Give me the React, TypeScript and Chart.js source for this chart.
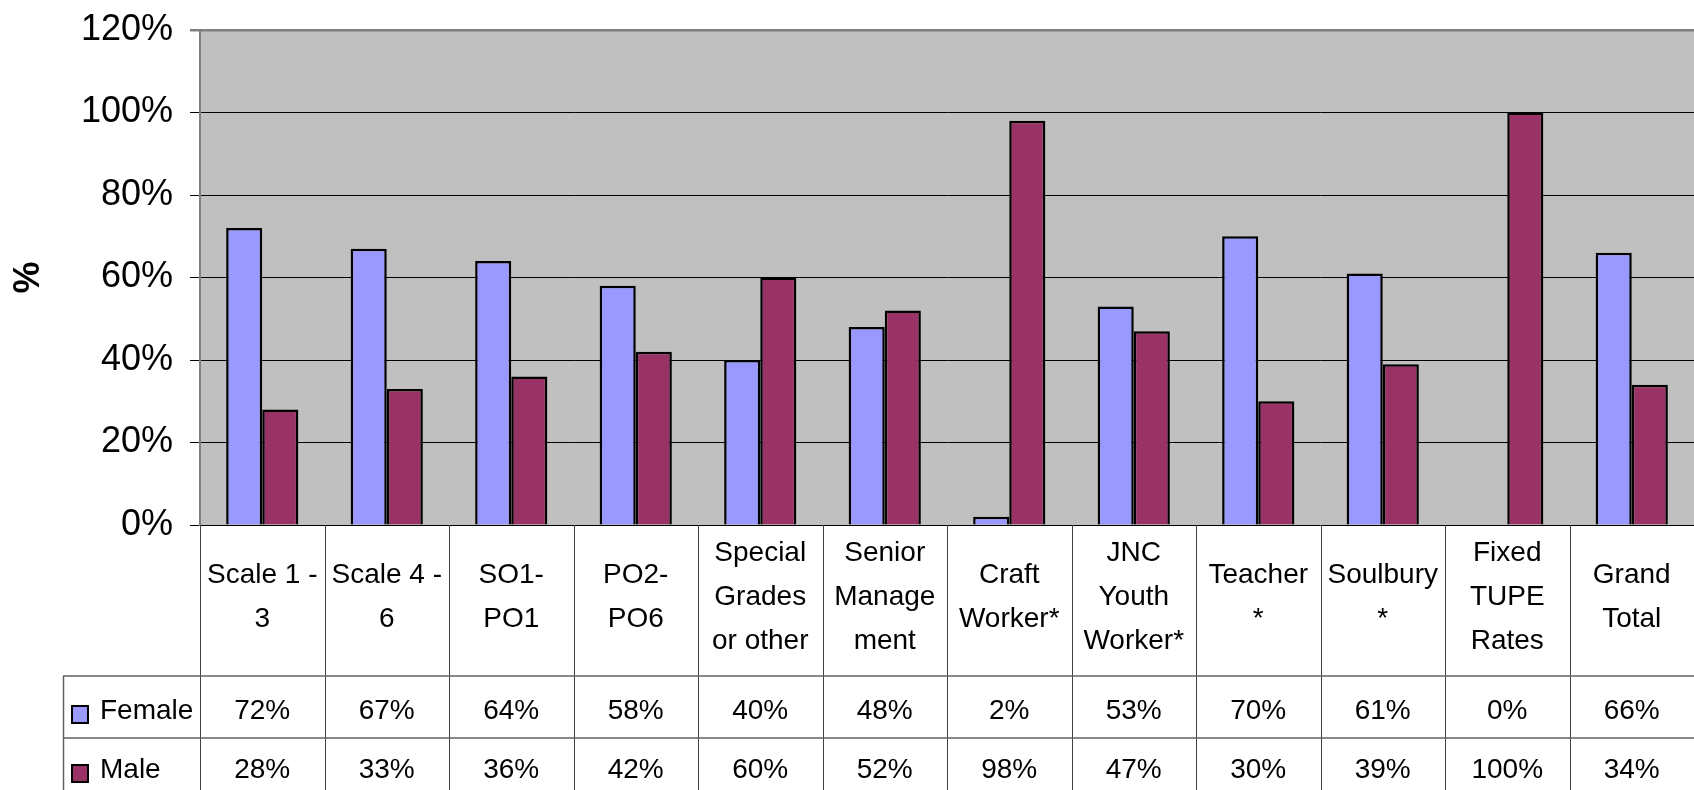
import React, { useEffect, useRef } from 'react';
import { Chart, registerables } from 'chart.js';

Chart.register(...registerables);

// ---- Data ----
const categoryLines: string[][] = [
  ['Scale 1 -', '3'],
  ['Scale 4 -', '6'],
  ['SO1-', 'PO1'],
  ['PO2-', 'PO6'],
  ['Special', 'Grades', 'or other'],
  ['Senior', 'Manage', 'ment'],
  ['Craft', 'Worker*'],
  ['JNC', 'Youth', 'Worker*'],
  ['Teacher', '*'],
  ['Soulbury', '*'],
  ['Fixed', 'TUPE', 'Rates'],
  ['Grand', 'Total'],
];
const seriesNames = ['Female', 'Male'];
const femaleValues = [72, 67, 64, 58, 40, 48, 2, 53, 70, 61, 0, 66];
const maleValues = [28, 33, 36, 42, 60, 52, 98, 47, 30, 39, 100, 34];
const yTickValues = [0, 20, 40, 60, 80, 100, 120];
const yAxisTitle = '%';

const FEMALE_COLOR = '#9999FF';
const MALE_COLOR = '#993366';
const FONT = "'Liberation Sans', Arial, Helvetica, sans-serif";

const tablePlugin = {
  id: 'excelDataTable',
  beforeDraw(chart: any) {
    const { ctx, chartArea } = chart;
    ctx.save();
    ctx.fillStyle = '#C0C0C0';
    ctx.fillRect(chartArea.left, chartArea.top, chartArea.right - chartArea.left, chartArea.bottom - chartArea.top);
    ctx.restore();
  },
  afterDraw(chart: any) {
    const { ctx, chartArea } = chart;
    const xs = chart.scales.x;
    const n = categoryLines.length;
    const step = xs.getPixelForValue(1) - xs.getPixelForValue(0);
    const firstEdge = xs.getPixelForValue(0) - step / 2;
    const H = chart.height;
    const headerBottom = chartArea.bottom + 151;
    const row1Bottom = headerBottom + 62;
    const legendLeft = 63;

    ctx.save();
    // vertical lines between categories
    ctx.strokeStyle = '#404040';
    ctx.lineWidth = 1;
    for (let i = 0; i <= n; i++) {
      const bx = Math.round(firstEdge + i * step) + 0.5;
      ctx.beginPath();
      ctx.moveTo(bx, chartArea.bottom);
      ctx.lineTo(bx, H);
      ctx.stroke();
    }
    // horizontal lines
    ctx.strokeStyle = '#606060';
    ctx.lineWidth = 1.5;
    [headerBottom, row1Bottom].forEach((y) => {
      ctx.beginPath();
      ctx.moveTo(legendLeft, y);
      ctx.lineTo(chartArea.right, y);
      ctx.stroke();
    });
    ctx.beginPath();
    ctx.moveTo(legendLeft + 0.5, headerBottom);
    ctx.lineTo(legendLeft + 0.5, H);
    ctx.stroke();

    // category labels
    ctx.fillStyle = '#000';
    ctx.font = `28px ${FONT}`;
    ctx.textAlign = 'center';
    ctx.textBaseline = 'middle';
    const lh = 44;
    const headerCenter = chartArea.bottom + 72;
    categoryLines.forEach((lines, i) => {
      const cx = xs.getPixelForValue(i);
      const y0 = headerCenter - ((lines.length - 1) * lh) / 2;
      lines.forEach((t, j) => ctx.fillText(t, cx, y0 + j * lh));
    });

    // value rows
    const rows = [femaleValues, maleValues];
    const rowCenters = [headerBottom + 35, row1Bottom + 32];
    const colors = [FEMALE_COLOR, MALE_COLOR];
    rows.forEach((vals, r) => {
      const cy = rowCenters[r];
      ctx.textAlign = 'center';
      vals.forEach((v, i) => {
        ctx.fillText(`${v}%`, xs.getPixelForValue(i), cy);
      });
      // legend key
      ctx.fillStyle = colors[r];
      ctx.fillRect(72, cy - 5, 16, 17);
      ctx.strokeStyle = '#000';
      ctx.lineWidth = 2;
      ctx.strokeRect(72, cy - 5, 16, 17);
      ctx.fillStyle = '#000';
      ctx.textAlign = 'left';
      ctx.fillText(seriesNames[r], 100, cy);
    });
    ctx.restore();
  },
};

export default function App() {
  const canvasRef = useRef<HTMLCanvasElement | null>(null);

  useEffect(() => {
    if (!canvasRef.current) return;
    const chart = new Chart(canvasRef.current, {
      type: 'bar',
      data: {
        labels: categoryLines.map((l) => l.join(' ')),
        datasets: [
          {
            label: seriesNames[0],
            data: femaleValues,
            backgroundColor: FEMALE_COLOR,
            borderColor: '#000',
            borderWidth: 2.5,
          },
          {
            label: seriesNames[1],
            data: maleValues,
            backgroundColor: MALE_COLOR,
            borderColor: '#000',
            borderWidth: 2.5,
          },
        ],
      },
      options: {
        responsive: false,
        animation: false,
        maintainAspectRatio: false,
        layout: { padding: { left: 0, right: 0, top: 30, bottom: 265 } },
        datasets: { bar: { categoryPercentage: 0.58, barPercentage: 1 } },
        plugins: {
          legend: { display: false },
          tooltip: { enabled: false },
          title: { display: false },
        },
        scales: {
          x: {
            ticks: { display: false },
            grid: { display: false },
            border: { display: false },
            afterFit: (s: any) => {
              s.height = 0;
              s.paddingLeft = 0;
              s.paddingRight = 0;
            },
          },
          y: {
            min: 0,
            max: 120,
            afterBuildTicks: (s: any) => {
              s.ticks = yTickValues.map((v) => ({ value: v }));
            },
            ticks: {
              padding: 17,
              color: '#000',
              font: { family: FONT, size: 36 },
              callback: (v: any) => `${v}%`,
            },
            grid: {
              color: (c: any) => (c.tick && c.tick.value === 120 ? '#808080' : '#000'),
              lineWidth: (c: any) => (c.tick && c.tick.value === 120 ? 2.5 : 1),
              tickLength: 10,
            },
            border: { display: true, color: '#808080', width: 2 },
            title: {
              display: true,
              text: yAxisTitle,
              color: '#000',
              font: { family: FONT, size: 36, weight: 'bold' },
              padding: { top: 7, bottom: 0 },
            },
            afterFit: (s: any) => {
              s.width = 200;
              s.paddingTop = 0;
              s.paddingBottom = 0;
            },
          },
        },
      },
      plugins: [tablePlugin],
    });
    return () => chart.destroy();
  }, []);

  return (
    <div style={{ position: 'absolute', left: 0, top: 0, width: 1694, height: 790, background: '#fff' }}>
      <canvas ref={canvasRef} width={1694} height={790} style={{ display: 'block' }} />
    </div>
  );
}
